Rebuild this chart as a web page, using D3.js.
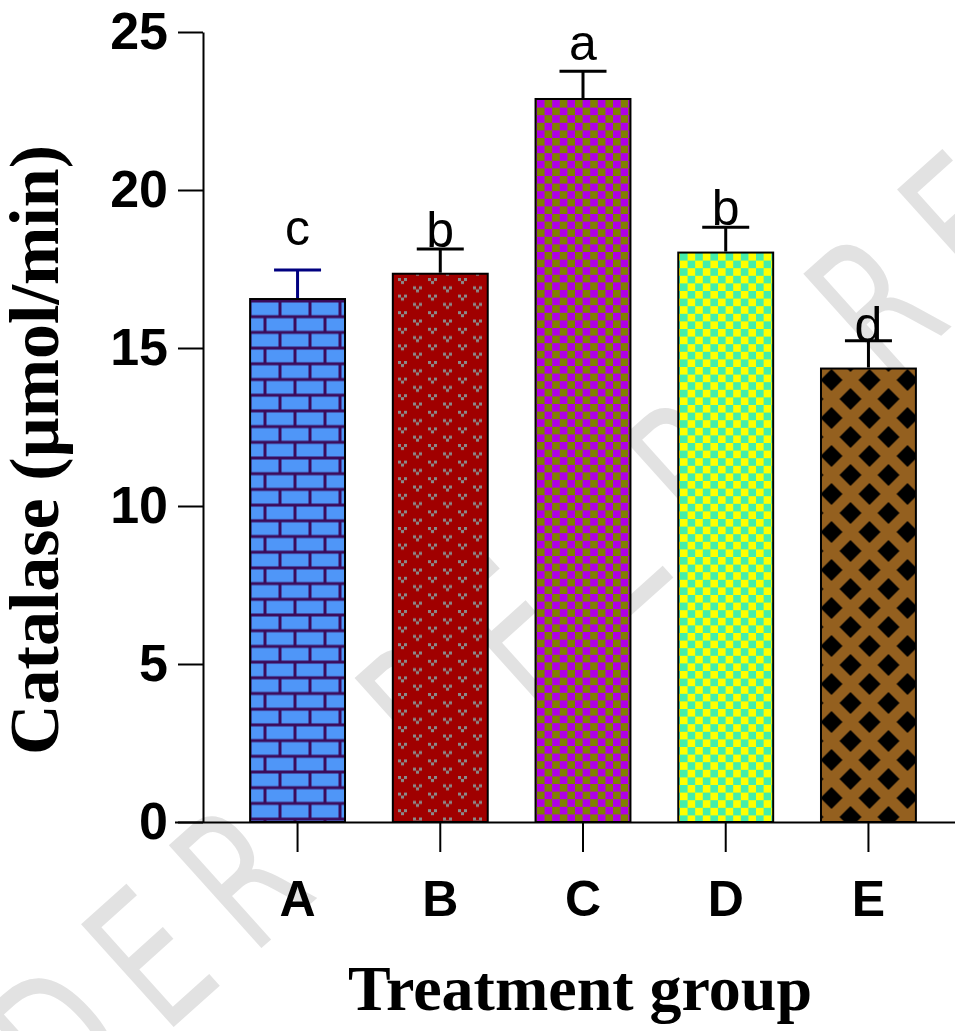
<!DOCTYPE html>
<html>
<head>
<meta charset="utf-8">
<script src="https://cdn.jsdelivr.net/npm/d3@7"></script>
<style>
  html, body { margin: 0; padding: 0; background: #fff; }
  svg { display: block; }
</style>
</head>
<body>
<script>
// ---- data ----
const categories = ["A", "B", "C", "D", "E"];
const means = [16.55, 17.35, 22.88, 18.02, 14.35];
const errors = [0.92, 0.78, 0.88, 0.80, 0.88];
const sigLetters = ["c", "b", "a", "b", "d"];
const sigLevels = [18.25, 18.2, 24.1, 18.9, 15.2];
const yTicks = [0, 5, 10, 15, 20, 25];
const yTitle = "Catalase (µmol/min)";
const xTitle = "Treatment group";
const watermark = "UNDER PEER REVIEW";

const W = 955, H = 1031;
const svg = d3.select("body").append("svg").attr("width", W).attr("height", H);
const defs = svg.append("defs");

// ---- patterns ----
const pA = defs.append("pattern").attr("id", "pA").attr("patternUnits", "userSpaceOnUse")
  .attr("width", 30).attr("height", 31.4).attr("x", 250).attr("y", 301);
pA.append("rect").attr("width", 30).attr("height", 31.4).attr("fill", "#3b0b5c");
pA.append("rect").attr("x", 1.5).attr("y", 1.5).attr("width", 27).attr("height", 12.7).attr("fill", "#4f96f8");
pA.append("rect").attr("x", -13.5).attr("y", 17.2).attr("width", 27).attr("height", 12.7).attr("fill", "#4f96f8");
pA.append("rect").attr("x", 16.5).attr("y", 17.2).attr("width", 27).attr("height", 12.7).attr("fill", "#4f96f8");

const pB = defs.append("pattern").attr("id", "pB").attr("patternUnits", "userSpaceOnUse")
  .attr("width", 30).attr("height", 16.6).attr("x", 398).attr("y", 278);
pB.append("rect").attr("width", 30).attr("height", 16.6).attr("fill", "#a00000");
[[0, 0], [15, 8.3]].forEach(([ox, oy]) => {
  [[0, 0], [6, 0], [3, 3]].forEach(([dx, dy]) => {
    pB.append("rect").attr("x", ox + dx).attr("y", oy + dy).attr("width", 3).attr("height", 3).attr("fill", "#8a8a8a");
  });
});

function checker(id, c1, c2, s, x0, y0) {
  const p = defs.append("pattern").attr("id", id).attr("patternUnits", "userSpaceOnUse")
    .attr("width", 2 * s).attr("height", 2 * s).attr("x", x0).attr("y", y0);
  p.append("rect").attr("width", 2 * s).attr("height", 2 * s).attr("fill", c1);
  p.append("rect").attr("x", s).attr("width", s).attr("height", s).attr("fill", c2);
  p.append("rect").attr("y", s).attr("width", s).attr("height", s).attr("fill", c2);
}
checker("pC", "#b000e6", "#808000", 7.6, 537, 100);
checker("pD", "#44eeaa", "#ffff00", 7.6, 680, 253);

const pE = defs.append("pattern").attr("id", "pE").attr("patternUnits", "userSpaceOnUse")
  .attr("width", 38).attr("height", 38).attr("x", 869.5 - 19).attr("y", 380 - 19);
pE.append("rect").attr("width", 38).attr("height", 38).attr("fill", "#94601f");
const dia = (cx, cy, r) => `M${cx},${cy - r}L${cx + r},${cy}L${cx},${cy + r}L${cx - r},${cy}Z`;
[[19, 19], [0, 0], [38, 0], [0, 38], [38, 38]].forEach(([cx, cy]) => {
  pE.append("path").attr("d", dia(cx, cy, 11)).attr("fill", "#000");
});

const fills = ["url(#pA)", "url(#pB)", "url(#pC)", "url(#pD)", "url(#pE)"];
const errColors = ["#000080", "#000", "#000", "#000", "#000"];

// ---- watermark (behind the chart) ----
const wm = svg.append("g").attr("fill", "#e2e2e2");
const angDeg = -42;
const ang = angDeg * Math.PI / 180;
const adv = 122;
const dIdx = 2;
const dPos = [60, 1040];
watermark.split("").forEach((ch, i) => {
  if (ch === " ") return;
  const cx = dPos[0] + (i - dIdx) * adv * Math.cos(ang);
  const cy = dPos[1] + (i - dIdx) * adv * Math.sin(ang);
  wm.append("text")
    .attr("transform", `translate(${cx},${cy}) rotate(${angDeg}) scale(0.8,1.15)`)
    .attr("text-anchor", "middle").attr("dy", "0.35em")
    .attr("font-family", "DejaVu Sans").attr("font-size", 165)
    .text(ch);
});

// ---- scales ----
const y = d3.scaleLinear().domain([0, 25]).range([822, 32]);
const x = d3.scaleBand().domain(categories).range([203, 963]).paddingInner(0.335).paddingOuter(0.33);

// ---- bars ----
const g = svg.append("g");
categories.forEach((c, i) => {
  const cx = x(c) + x.bandwidth() / 2;
  g.append("rect")
    .attr("x", x(c)).attr("y", y(means[i]))
    .attr("width", x.bandwidth()).attr("height", y(0) - y(means[i]))
    .attr("fill", fills[i]).attr("stroke", "#000").attr("stroke-width", 2);
  g.append("line").attr("x1", cx).attr("x2", cx)
    .attr("y1", y(means[i]) - 1).attr("y2", y(means[i] + errors[i]))
    .attr("stroke", errColors[i]).attr("stroke-width", 3);
  g.append("line").attr("x1", cx - 23.5).attr("x2", cx + 23.5)
    .attr("y1", y(means[i] + errors[i])).attr("y2", y(means[i] + errors[i]))
    .attr("stroke", errColors[i]).attr("stroke-width", 3);
  g.append("text").attr("x", cx).attr("y", y(sigLevels[i]))
    .attr("text-anchor", "middle")
    .attr("font-family", "Liberation Sans, Arial, sans-serif").attr("font-size", 50)
    .attr("fill", "#000").text(sigLetters[i]);
});

// ---- axes ----
const yAxis = d3.axisLeft(y).tickValues(yTicks).tickSize(25).tickSizeOuter(0).tickPadding(10);
const gy = svg.append("g").attr("transform", "translate(203,0)").call(yAxis);
gy.select(".domain").attr("stroke-width", 2);
gy.selectAll(".tick line").attr("stroke-width", 2);
gy.selectAll(".tick text").attr("font-family", "Liberation Sans, Arial, sans-serif")
  .attr("font-weight", "bold").attr("font-size", 52).attr("fill", "#000");

const xAxis = d3.axisBottom(x).tickSize(30).tickSizeOuter(0).tickPadding(28);
const gx = svg.append("g").attr("transform", "translate(0,822)").call(xAxis);
gx.select(".domain").attr("stroke-width", 2).attr("d", "M175,0.5H955");
gx.selectAll(".tick line").attr("stroke-width", 2);
gx.selectAll(".tick text").attr("font-family", "Liberation Sans, Arial, sans-serif")
  .attr("font-weight", "bold").attr("font-size", 50).attr("fill", "#000");

// ---- titles ----
svg.append("text")
  .attr("transform", "translate(58,450) rotate(-90)")
  .attr("text-anchor", "middle")
  .attr("font-family", "Liberation Serif, Times New Roman, serif")
  .attr("font-weight", "bold").attr("font-size", 70).attr("fill", "#000")
  .text(yTitle);
svg.append("text")
  .attr("x", 580).attr("y", 1010)
  .attr("text-anchor", "middle")
  .attr("font-family", "Liberation Serif, Times New Roman, serif")
  .attr("font-weight", "bold").attr("font-size", 64).attr("fill", "#000")
  .text(xTitle);
</script>
</body>
</html>
